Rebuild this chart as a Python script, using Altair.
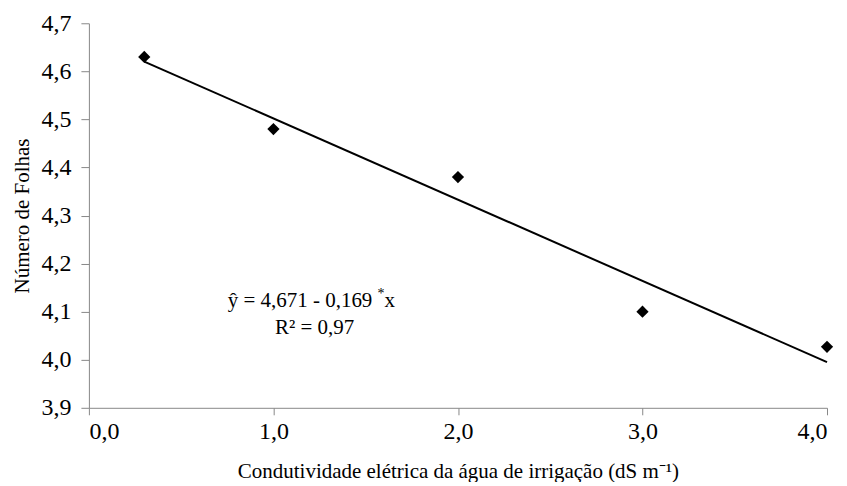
import altair as alt
import pandas as pd

ce = [0.3, 1.0, 2.0, 3.0, 4.0]
folhas = [4.63, 4.48, 4.38, 4.10, 4.027]
fit_x = [0.3, 4.0]
fit_y = [4.671 - 0.169 * 0.3, 4.671 - 0.169 * 4.0]

pts = pd.DataFrame({"x": ce, "y": folhas})
fit = pd.DataFrame({"x": fit_x, "y": fit_y})
one = pd.DataFrame({"k": [0]})

FONT = "Liberation Serif"
lab = "replace(format(datum.value, '.1f'), '.', ',')"

xs = alt.Scale(domain=[0, 4], nice=False, zero=False)
ys = alt.Scale(domain=[3.9, 4.7], nice=False, zero=False)

xax = alt.Axis(values=[0, 1, 2, 3, 4], labelExpr=lab, tickSize=7, labelPadding=5, titlePadding=17,
               labelFont=FONT)
yax = alt.Axis(values=[3.9, 4.0, 4.1, 4.2, 4.3, 4.4, 4.5, 4.6, 4.7], labelExpr=lab,
               tickSize=8, labelPadding=10, titlePadding=8, labelFont=FONT)

points = alt.Chart(pts).mark_point(shape="diamond", filled=True, color="black", size=150, opacity=1).encode(
    x=alt.X("x:Q", scale=xs, axis=xax, title="Condutividade elétrica da água de irrigação (dS m⁻¹)"),
    y=alt.Y("y:Q", scale=ys, axis=yax, title="Número de Folhas"),
)
line = alt.Chart(fit).mark_line(color="black", strokeWidth=2).encode(
    x=alt.X("x:Q", scale=xs), y=alt.Y("y:Q", scale=ys)
)

t_style = dict(font=FONT, fontSize=21, fontWeight="normal", color="black", baseline="middle")
eq1 = alt.Chart(one).mark_text(align="left", text="ŷ = 4,671 - 0,169", **t_style).encode(
    x=alt.value(139), y=alt.value(278))
star = alt.Chart(one).mark_text(align="left", text="*", font=FONT, fontSize=14, fontWeight="normal",
                                color="black", baseline="middle").encode(x=alt.value(289), y=alt.value(271))
eqx = alt.Chart(one).mark_text(align="left", text="x", **t_style).encode(
    x=alt.value(296), y=alt.value(278))
r2 = alt.Chart(one).mark_text(align="center", text="R² = 0,97", **t_style).encode(
    x=alt.value(226), y=alt.value(305))

chart = alt.layer(line, points, eq1, star, eqx, r2).properties(
    width=739, height=385, padding={"left": 4, "top": 3, "right": 5, "bottom": 0}
).configure(background="white", font=FONT).configure_view(stroke=None).configure_axis(
    grid=False, domainColor="#888888", tickColor="#888888",
    labelFont=FONT, labelFontSize=24, labelColor="black",
    titleFont=FONT, titleFontSize=21, titleFontWeight="normal", titleColor="black",
)

chart.save("out.html", embed_options={"renderer": "svg", "actions": False})
